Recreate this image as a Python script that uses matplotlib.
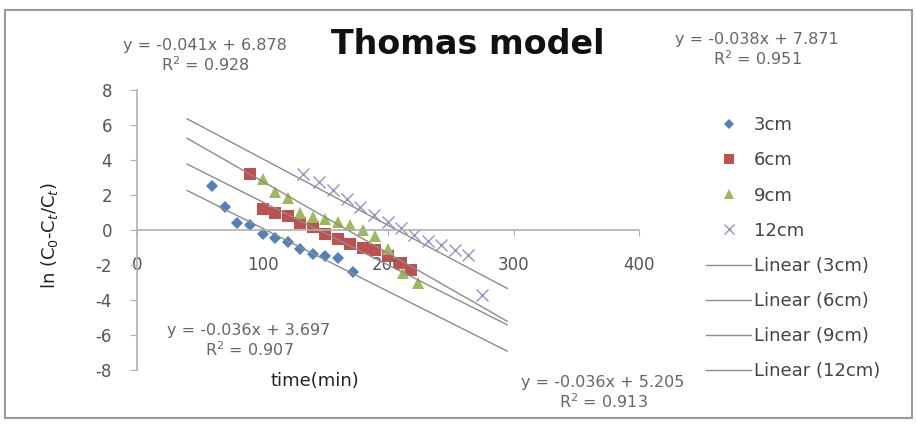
import matplotlib.pyplot as plt
import numpy as np
from matplotlib.patches import Rectangle

# data
t_3 = [60, 70, 80, 90, 100, 110, 120, 130, 140, 150, 160, 172]
y_3 = [2.5, 1.3, 0.4, 0.3, -0.2, -0.45, -0.7, -1.1, -1.35, -1.5, -1.6, -2.4]

t_6 = [90, 100, 110, 120, 130, 140, 150, 160, 170, 180, 190, 200, 210, 218]
y_6 = [3.2, 1.2, 1.0, 0.8, 0.4, 0.15, -0.2, -0.5, -0.8, -1.0, -1.15, -1.5, -1.9, -2.3]

t_9 = [100, 110, 120, 130, 140, 150, 160, 170, 180, 190, 200, 212, 224]
y_9 = [2.9, 2.2, 1.85, 1.0, 0.75, 0.65, 0.45, 0.3, 0.0, -0.35, -1.1, -2.45, -3.0]

t_12 = [132, 145, 156, 167, 178, 189, 200, 210, 221, 232, 242, 253, 264, 275]
y_12 = [3.2, 2.75, 2.3, 1.8, 1.3, 0.85, 0.45, 0.1, -0.3, -0.6, -0.85, -1.15, -1.45, -3.7]

labels = ['3cm', '6cm', '9cm', '12cm']
slopes = [-0.036, -0.036, -0.041, -0.038]
intercepts = [3.697, 5.205, 6.878, 7.871]
r2 = [0.907, 0.913, 0.928, 0.951]
trend_x = [40, 295]

colors = ['#4F81BD', '#C0504D', '#9BBB59', '#9C8FC9']
markers = ['D', 's', '^', 'x']
msizes = [6.5, 9, 8.5, 9]

plt.rcParams['font.family'] = ['DejaVu Sans']
plt.rcParams['axes.unicode_minus'] = False

W, H = 916, 424
fig = plt.figure(figsize=(W / 100, H / 100), dpi=100)
fig.patches.append(Rectangle((5 / W, 1 - 418 / H), 907 / W, 408 / H,
                             transform=fig.transFigure, fill=False,
                             edgecolor='#9a9a9a', linewidth=1.5))

ax = fig.add_axes([137 / W, 1 - 370 / H, 502 / W, 280 / H])

data = [(t_3, y_3), (t_6, y_6), (t_9, y_9), (t_12, y_12)]
for (tx, ty), c, m, s, lab in zip(data, colors, markers, msizes, labels):
    ew = 1.0 if m == 'x' else 0
    ax.plot(tx, ty, linestyle='none', marker=m, color=c, markersize=s,
            markeredgewidth=ew, label=lab)

xx = np.array(trend_x)
for a, b, lab in zip(slopes, intercepts, labels):
    ax.plot(xx, a * xx + b, color='#8c8c8c', linewidth=1.0, label='Linear (%s)' % lab)

ax.set_xlim(0, 400)
ax.set_ylim(-8, 8)
ax.set_xticks([0, 100, 200, 300, 400])
ax.set_yticks(range(-8, 9, 2))
ax.spines['top'].set_visible(False)
ax.spines['right'].set_visible(False)
ax.spines['bottom'].set_position(('data', 0))
for sp in ('left', 'bottom'):
    ax.spines[sp].set_color('#b0b0b0')
    ax.spines[sp].set_linewidth(1.2)
ax.tick_params(axis='y', length=5, color='#b0b0b0', pad=13, labelsize=12,
               labelcolor='#555555')
ax.tick_params(axis='x', length=4, color='#b0b0b0', pad=15, labelsize=12,
               labelcolor='#555555')
ax.patch.set_alpha(0)

fig.text(468 / W, 1 - 45 / H, 'Thomas model', ha='center', va='center',
         fontsize=24, fontweight='bold', color='#111111')
fig.text(315 / W, 1 - 381 / H, 'time(min)', ha='center', va='center',
         fontsize=13, color='#222222')
fig.text(50 / W, 1 - 236 / H, 'ln (C$_0$-C$_t$/C$_t$)', ha='center', va='center',
         rotation=90, fontsize=13, color='#222222')

# trendline equations
eq_pos = {'9cm': (205, 56), '12cm': (757, 50), '3cm': (249, 341), '6cm': (603, 393)}
for a, b, r, lab in zip(slopes, intercepts, r2, labels):
    px, py = eq_pos[lab]
    fig.text(px / W, 1 - py / H,
             'y = %.3fx + %.3f\nR$^2$ = %.3f' % (a, b, r),
             ha='center', va='center', fontsize=11.5, color='#666666',
             linespacing=1.1)

fig.legend(loc='upper left', bbox_to_anchor=(699 / W, 1 - 109 / H),
           frameon=False, fontsize=13, labelspacing=0.95, handlelength=2.5,
           handletextpad=0.15, labelcolor='#444444', borderaxespad=0,
           markerscale=0.85)

fig.savefig('out.png', dpi=100)
